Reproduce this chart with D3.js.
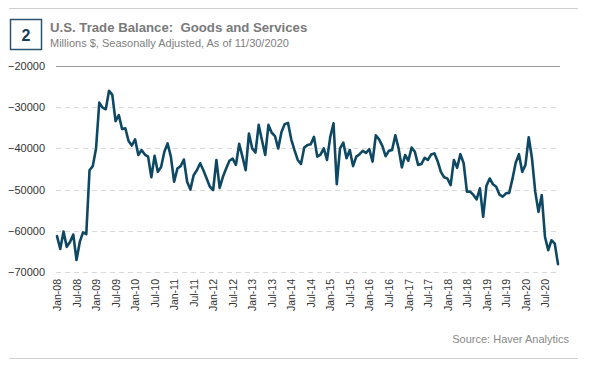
<!DOCTYPE html>
<html>
<head>
<meta charset="utf-8">
<script src="https://cdn.jsdelivr.net/npm/d3@7"></script>
<style>
html,body{margin:0;padding:0;background:#fff;}
svg{display:block;font-family:"Liberation Sans",Arial,sans-serif;}
</style>
</head>
<body>
<svg id="chart" width="600" height="375"></svg>
<script>
// Monthly U.S. trade balance, Jan-2008 .. Nov-2020 (millions $)
const startYear = 2008;
const tradeBalance = [
  -61300,-64400,-60200,-63900,-62700,-60900,-67100,-62700,-60400,-60800,-45300,-44300,
  -40000,-28900,-30100,-30500,-26000,-27000,-33400,-31900,-35300,-35100,-38200,-39300,
  -37800,-41600,-40400,-41500,-42000,-47000,-41800,-45700,-44500,-40800,-38800,-42000,
  -48100,-44900,-44300,-42700,-48100,-50000,-46500,-45300,-43600,-45300,-47300,-49300,
  -50100,-42800,-49600,-46900,-44900,-43000,-42500,-44000,-38900,-42000,-45300,-36400,
  -40000,-41000,-34300,-38000,-41600,-34300,-36200,-37000,-40000,-36000,-34100,-33800,
  -37800,-40400,-42800,-43800,-39800,-39200,-39000,-37200,-42000,-41500,-40000,-42800,
  -37200,-33900,-48700,-40000,-38600,-42400,-40400,-44300,-42000,-41400,-40600,-41100,
  -40200,-43200,-36800,-37800,-39400,-41900,-40600,-40400,-36800,-40000,-44600,-41600,
  -43000,-39800,-40800,-44000,-43800,-42300,-42800,-41500,-41200,-43100,-45700,-47000,
  -47300,-48900,-42800,-44700,-41400,-43600,-50500,-50500,-51300,-52400,-49700,-56600,
  -49100,-47300,-48700,-49300,-51200,-51700,-50900,-50800,-47400,-43500,-41400,-45700,
  -44000,-37300,-42400,-50500,-55400,-51300,-61500,-64700,-62300,-63100,-68100
];
const monthNames = ["Jan","Feb","Mar","Apr","May","Jun","Jul","Aug","Sep","Oct","Nov","Dec"];
const yTicks = [-20000,-30000,-40000,-50000,-60000,-70000];
const xTickLabels = ["Jan-08","Jul-08","Jan-09","Jul-09","Jan-10","Jul-10","Jan-11","Jul-11",
  "Jan-12","Jul-12","Jan-13","Jul-13","Jan-14","Jul-14","Jan-15","Jul-15","Jan-16","Jul-16",
  "Jan-17","Jul-17","Jan-18","Jul-18","Jan-19","Jul-19","Jan-20","Jul-20"];

const data = tradeBalance.map((v,i)=>{
  const y = startYear + Math.floor(i/12);
  return {label: monthNames[i%12] + "-" + String(y).slice(2), value: v};
});

const svg = d3.select("#chart");

// top and bottom rules
svg.append("line").attr("x1",9).attr("x2",578).attr("y1",8.5).attr("y2",8.5)
  .attr("stroke","#cfcfcf").attr("stroke-width",1);
svg.append("line").attr("x1",9).attr("x2",578).attr("y1",358.5).attr("y2",358.5)
  .attr("stroke","#cfcfcf").attr("stroke-width",1);

// number box
svg.append("rect").attr("x",10.5).attr("y",19.5).attr("width",31).attr("height",30)
  .attr("fill","#fff").attr("stroke","#2a5470").attr("stroke-width",1.5);
svg.append("text").attr("x",26).attr("y",41).attr("text-anchor","middle")
  .attr("font-size",16).attr("font-weight","bold").attr("fill","#173c57").text("2");

// titles
svg.append("text").attr("x",50).attr("y",32).attr("font-size",13.2).attr("font-weight","bold")
  .attr("fill","#7a7a7a").attr("xml:space","preserve").text("U.S. Trade Balance:  Goods and Services");
svg.append("text").attr("x",50).attr("y",46.5).attr("font-size",11)
  .attr("fill","#808080").text("Millions $, Seasonally Adjusted, As of 11/30/2020");

// scales
const x = d3.scalePoint().domain(data.map(d=>d.label)).range([57,558]);
const y = d3.scaleLinear().domain([-70000,-20000]).range([272,66]);

// gridlines
const grid = svg.append("g");
grid.selectAll("line").data(yTicks).join("line")
  .attr("x1",56).attr("x2",d=> d===-20000 ? 560 : 558)
  .attr("y1",d=>Math.round(y(d))+0.5).attr("y2",d=>Math.round(y(d))+0.5)
  .attr("stroke",d=> d===-20000 ? "#9a9a9a" : "#d9d9d9")
  .attr("stroke-width",1)
  .attr("stroke-dasharray",d=> d===-20000 ? null : "5,4");

// y axis labels
const yAxis = d3.axisLeft(y).tickValues(yTicks).tickSize(0).tickPadding(0).tickFormat(d3.format("d"));
const ya = svg.append("g").attr("transform","translate(45,0)").call(yAxis);
ya.select(".domain").remove();
ya.selectAll("text").attr("font-size",11).attr("fill","#333").attr("font-family","Liberation Sans, Arial, sans-serif");

// x axis labels
const xAxis = d3.axisBottom(x).tickValues(xTickLabels).tickSize(0).tickPadding(0);
const xa = svg.append("g").attr("transform","translate(0,279)").call(xAxis);
xa.select(".domain").remove();
xa.selectAll("text")
  .attr("font-size",10.5).attr("fill","#333").attr("font-family","Liberation Sans, Arial, sans-serif")
  .attr("text-anchor","end").attr("dy","0.35em").attr("dx",0).attr("y",0).attr("x",0)
  .attr("transform","rotate(-90)");

// line
const line = d3.line().x(d=>x(d.label)).y(d=>y(d.value));
svg.append("path").datum(data).attr("d",line)
  .attr("fill","none").attr("stroke","#0e4862").attr("stroke-width",2.6)
  .attr("stroke-linejoin","round").attr("stroke-linecap","round");

// source
svg.append("text").attr("x",569).attr("y",343).attr("text-anchor","end")
  .attr("font-size",11).attr("fill","#8a8a8a").text("Source: Haver Analytics");
</script>
</body>
</html>
